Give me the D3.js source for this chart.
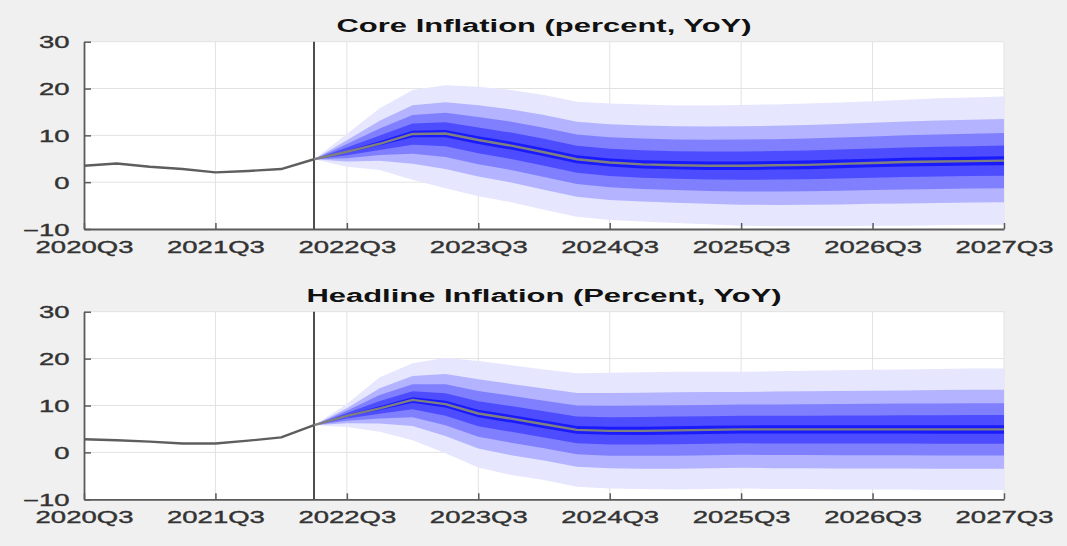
<!DOCTYPE html>
<html><head><meta charset="utf-8">
<script src="https://cdn.jsdelivr.net/npm/d3@7"></script>
<style>
body{margin:0;background:#f0f0f0;}
svg{display:block;font-family:"Liberation Sans",Arial,Helvetica,sans-serif;}
</style>
</head><body>
<svg id="chart" width="1067" height="546"></svg>
<script>
// ---- data (quarter index 0 = 2020Q3 ... 28 = 2027Q3) ----
const quarterTickIdx = [0, 4, 8, 12, 16, 20, 24, 28];
const quarterLabels = ["2020Q3","2021Q3","2022Q3","2023Q3","2024Q3","2025Q3","2026Q3","2027Q3"];
const yTicks = [-10, 0, 10, 20, 30];
const forecastStart = 7; // 2022Q2

// Core inflation: actuals 2020Q3..2022Q2
const coreActual = [3.5, 4.0, 3.3, 2.8, 2.1, 2.4, 2.8, 4.9];
// forecast median 2022Q2..2027Q3
const coreMedian = [4.9, 6.5, 8.2, 10.3, 10.4, 9.0, 7.8, 6.4, 4.9, 4.2, 3.8, 3.6, 3.5, 3.5, 3.6, 3.7, 3.9, 4.1, 4.3, 4.4, 4.5, 4.6];
const coreUpper  = [4.9, 10.3, 15.8, 19.7, 20.7, 20.4, 19.7, 18.6, 17.2, 16.8, 16.6, 16.4, 16.4, 16.5, 16.6, 16.8, 17.0, 17.3, 17.6, 17.9, 18.1, 18.3];
const coreLower  = [4.9, 3.3, 2.6, 0.5, -1.3, -3.0, -4.3, -5.9, -7.4, -8.1, -8.4, -8.7, -9.0, -9.3, -9.4, -9.4, -9.4, -9.3, -9.3, -9.2, -9.1, -9.1];

// Headline inflation
const headActual = [2.8, 2.6, 2.3, 1.9, 1.9, 2.5, 3.2, 5.8];
const headMedian = [5.8, 7.8, 9.4, 11.2, 10.3, 8.3, 7.2, 6.0, 4.8, 4.6, 4.6, 4.7, 4.8, 4.9, 4.9, 4.9, 4.9, 4.9, 4.9, 4.9, 4.9, 4.9];
const headUpper  = [5.8, 10.3, 16.0, 19.0, 20.2, 19.5, 18.6, 17.7, 16.9, 17.0, 17.1, 17.2, 17.2, 17.2, 17.3, 17.4, 17.5, 17.6, 17.7, 17.8, 17.9, 17.9];
const headLower  = [5.8, 5.4, 4.4, 2.6, -0.2, -3.2, -4.8, -5.9, -7.3, -7.7, -7.8, -7.9, -7.8, -7.7, -7.8, -7.8, -7.9, -7.9, -7.9, -8.0, -8.0, -8.0];

// fan bands as share of the outer band's distance from the median
const bandShares = [1, 0.65, 0.43, 0.235, 0.07];
const bandColors = ["#e6e6ff", "#b3b3ff", "#8080ff", "#4d4dff", "#1a1aff"];

const panels = [
  {title: "Core Inflation (percent, YoY)", top: 41.7, bottom: 229, actual: coreActual, median: coreMedian, upper: coreUpper, lower: coreLower},
  {title: "Headline Inflation (Percent, YoY)", top: 311.7, bottom: 499.3, actual: headActual, median: headMedian, upper: headUpper, lower: headLower}
];

// ---- drawing ----
const svg = d3.select("#chart");
const STRETCH = 1.72;
const left = 84, right = 1004;
const x = d3.scaleLinear().domain([0, 28]).range([left, right]);

panels.forEach(p => {
  const y = d3.scaleLinear().domain([-10, 30]).range([p.bottom, p.top]);
  const g = svg.append("g");

  g.append("rect").attr("x", left).attr("y", p.top)
    .attr("width", right - left).attr("height", p.bottom - p.top).attr("fill", "#ffffff");

  // grid
  g.append("g").selectAll("line").data(quarterTickIdx.slice(1)).join("line")
    .attr("x1", d => x(d)).attr("x2", d => x(d)).attr("y1", p.top).attr("y2", p.bottom)
    .attr("stroke", "#e2e2e2").attr("stroke-width", 1);
  g.append("g").selectAll("line").data(yTicks.slice(1)).join("line")
    .attr("x1", left).attr("x2", right).attr("y1", d => y(d)).attr("y2", d => y(d))
    .attr("stroke", "#e2e2e2").attr("stroke-width", 1);

  // fan
  const fc = p.median.map((m, i) => ({i: forecastStart + i, m, u: p.upper[i], l: p.lower[i]}));
  bandShares.forEach((s, bi) => {
    const area = d3.area()
      .x(d => x(d.i))
      .y0(d => y(d.m + s * (d.l - d.m)))
      .y1(d => y(d.m + s * (d.u - d.m)));
    g.append("path").datum(fc).attr("d", area).attr("fill", bandColors[bi]);
  });

  // vertical line at forecast start
  g.append("line").attr("x1", x(forecastStart)).attr("x2", x(forecastStart))
    .attr("y1", p.top).attr("y2", p.bottom).attr("stroke", "#3a3a3a").attr("stroke-width", 1.8);

  // lines
  const line = d3.line().x(d => x(d.i)).y(d => y(d.v));
  g.append("path").datum(p.actual.map((v, i) => ({i, v})))
    .attr("d", line).attr("fill", "none").attr("stroke", "#5e5e5e").attr("stroke-width", 2.4)
    .attr("stroke-linejoin", "round");
  g.append("path").datum(p.median.map((v, i) => ({i: forecastStart + i, v})))
    .attr("d", line).attr("fill", "none").attr("stroke", "#808080").attr("stroke-width", 2.4)
    .attr("stroke-linejoin", "round");

  // axes
  const xa = g.append("g").attr("transform", `translate(0,${p.bottom})`)
    .call(d3.axisBottom(x).tickValues(quarterTickIdx)
      .tickFormat((d, k) => quarterLabels[k]).tickSizeInner(-6).tickSizeOuter(0));
  const ya = g.append("g").attr("transform", `translate(${left},0)`)
    .call(d3.axisLeft(y).tickValues(yTicks).tickFormat(d3.format("d")).tickSizeInner(-7).tickSizeOuter(0));

  [xa, ya].forEach(a => {
    a.select(".domain").attr("stroke", "#5a5a5a").attr("stroke-width", 1.8);
    a.selectAll(".tick line").attr("stroke", "#5a5a5a").attr("stroke-width", 1.5);
    a.selectAll(".tick text").attr("fill", "#333").attr("stroke", "#333").attr("stroke-width", 0.35)
      .attr("font-size", 16).attr("font-family", "'Liberation Sans', Arial, sans-serif");
  });
  xa.selectAll(".tick text").attr("dy", null).attr("y", 24)
    .attr("transform", `scale(${STRETCH},1)`);
  ya.selectAll(".tick text").attr("dy", null).attr("y", 6)
    .attr("x", -14.5 / STRETCH).attr("transform", `scale(${STRETCH},1)`);

  // title
  const cx = (left + right) / 2;
  g.append("text").attr("transform", `translate(${cx},${p.top - 10}) scale(${STRETCH},1)`)
    .attr("text-anchor", "middle").attr("font-weight", "bold").attr("font-size", 18)
    .attr("fill", "#111").text(p.title);
});
</script>
</body></html>
